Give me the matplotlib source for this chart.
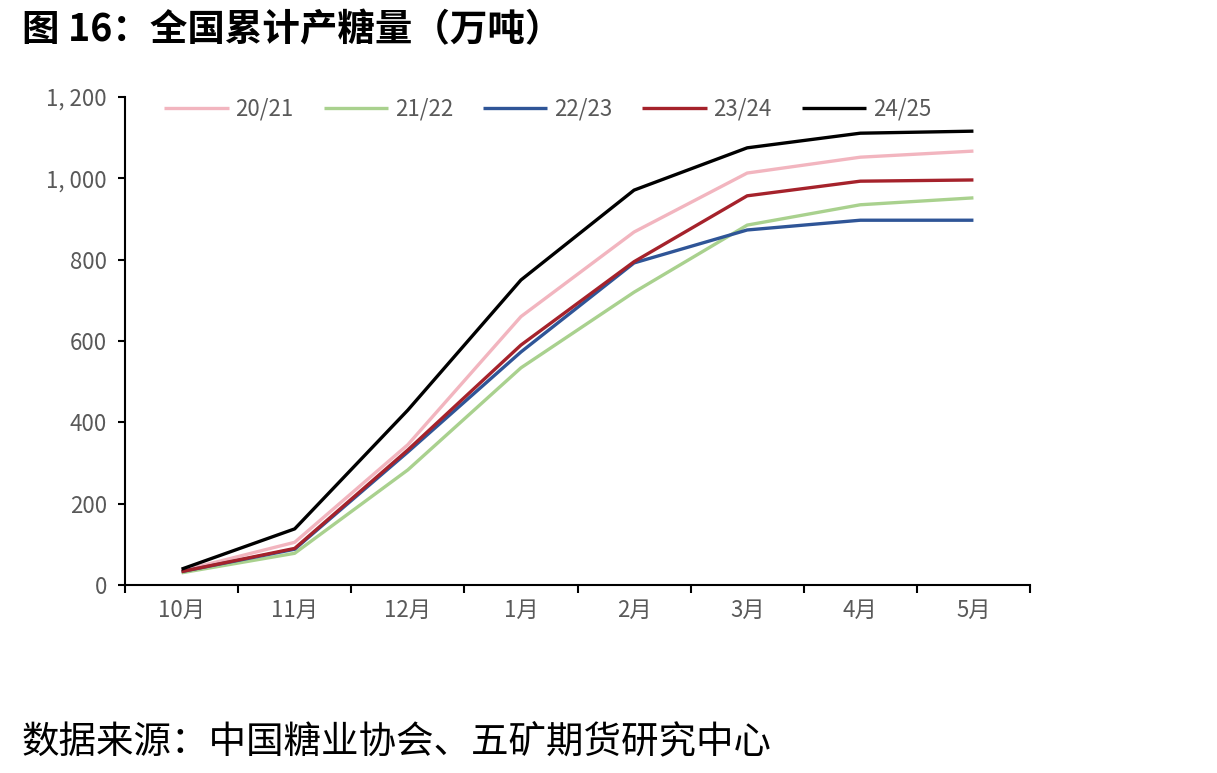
import matplotlib
matplotlib.use("Agg")
import matplotlib.pyplot as plt
from matplotlib.ticker import FuncFormatter
import numpy as np

plt.rcParams['font.family'] = ['Noto Sans CJK SC', 'DejaVu Sans']

months = ['10月', '11月', '12月', '1月', '2月', '3月', '4月', '5月']
s2021 = [35, 105, 345, 660, 868, 1013, 1052, 1067]
s2122 = [30, 78, 283, 534, 720, 885, 935, 952]
s2223 = [33, 88, 327, 573, 792, 873, 897, 897]
s2324 = [33, 90, 332, 590, 795, 957, 993, 996]
s2425 = [39, 138, 430, 750, 971, 1075, 1111, 1116]
series_names = ['20/21', '21/22', '22/23', '23/24', '24/25']
colors = ['#F2B5BF', '#A9D18E', '#2F5597', '#A5222B', '#000000']
yticks = [0, 200, 400, 600, 800, 1000, 1200]

fig = plt.figure(figsize=(12.17, 7.73), dpi=100)
ax = fig.add_axes([125/1217, 1 - 585/773, (1030-125)/1217, (585-97)/773])

x = np.arange(len(months))
for name, vals, c in zip(series_names, [s2021, s2122, s2223, s2324, s2425], colors):
    ax.plot(x, vals, color=c, lw=2.4, label=name, solid_capstyle='butt')

ax.set_xlim(-0.5, len(months) - 0.5)
ax.set_ylim(0, 1200)
ax.set_yticks(yticks)
ax.yaxis.set_major_formatter(FuncFormatter(lambda v, p: f"{int(v):,}".replace(',', ', ')))
ax.set_xticks(x)
ax.set_xticklabels(months)
ax.set_xticks(np.arange(len(months) + 1) - 0.5, minor=True)
ax.tick_params(axis='x', which='major', length=0, pad=10, labelsize=16, labelcolor='#595959')
ax.tick_params(axis='x', which='minor', length=6, width=1.5, direction='out', color='black')
ax.tick_params(axis='y', length=5, width=1.5, direction='out', pad=8, labelsize=16, labelcolor='#595959')
for s in ['top', 'right']:
    ax.spines[s].set_visible(False)
for s in ['left', 'bottom']:
    ax.spines[s].set_linewidth(1.5)
    ax.spines[s].set_color('black')

leg = ax.legend(loc='upper center', bbox_to_anchor=(0.467, 1.04), ncol=5, frameon=False,
                fontsize=16, handlelength=2.9, columnspacing=1.35, handletextpad=0.3)
for t in leg.get_texts():
    t.set_color('#595959')

fig.text(22/1217, 1 - 30/773, '图 16：全国累计产糖量（万吨）', fontsize=27, fontweight='heavy',
         va='center', ha='left')
fig.text(22/1217, 1 - 742/773, '数据来源：中国糖业协会、五矿期货研究中心', fontsize=27,
         fontweight='medium', va='center', ha='left')

fig.savefig('out.png', dpi=100)
